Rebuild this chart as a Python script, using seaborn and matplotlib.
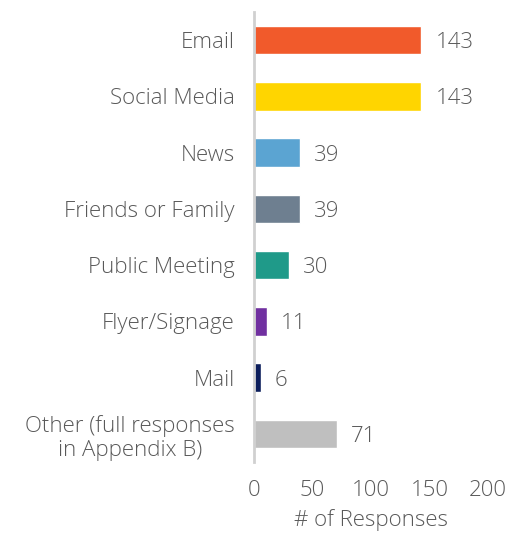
import matplotlib
matplotlib.use('Agg')
import matplotlib.pyplot as plt
import seaborn as sns
import pandas as pd

# chart data
categories = ['Email', 'Social Media', 'News', 'Friends or Family',
              'Public Meeting', 'Flyer/Signage', 'Mail',
              'Other (full responses\nin Appendix B)']
responses = [143, 143, 39, 39, 30, 11, 6, 71]
bar_colors = ['#F15A2B', '#FFD500', '#5BA4D2', '#6E7F90',
              '#1F9A89', '#7030A0', '#0C1E5C', '#BFBFBF']
x_ticks = [0, 50, 100, 150, 200]

df = pd.DataFrame({'category': categories, 'responses': responses})

sns.set_style('white')
plt.rcParams['font.family'] = ['Open Sans', 'DejaVu Sans']
plt.rcParams['font.weight'] = 'light'
text_color = '#595959'
fs = 16

fig = plt.figure(figsize=(5.16, 5.33), dpi=100)
ax = fig.add_axes([0.4922, 0.1332, 0.4535, 0.8443])

sns.barplot(data=df, x='responses', y='category', hue='category',
            palette=bar_colors, legend=False, width=0.51, ax=ax,
            saturation=1)

# value labels
for i, v in enumerate(responses):
    ax.text(v + 12, i, str(v), va='center_baseline', ha='left',
            fontsize=fs, color=text_color, fontweight='light')

ax.set_xlim(0, 200)
ax.set_ylim(len(categories) - 0.5, -0.5)
ax.set_xticks(x_ticks)
ax.set_xticklabels([str(t) for t in x_ticks])
ax.set_xlabel('# of Responses', fontsize=fs, color=text_color,
              labelpad=6, fontweight='light')
ax.set_ylabel('')
ax.tick_params(axis='both', length=0, labelsize=fs, colors=text_color)
ax.tick_params(axis='y', pad=14)
ax.tick_params(axis='x', pad=13)
for lbl in ax.get_yticklabels():
    lbl.set_horizontalalignment('right')
    lbl.set_multialignment('center')
    lbl.set_fontweight('light')
for lbl in ax.get_xticklabels():
    lbl.set_fontweight('light')

for side in ['top', 'right', 'bottom']:
    ax.spines[side].set_visible(False)
ax.spines['left'].set_color('#D0D0D0')
ax.spines['left'].set_linewidth(2)

plt.savefig('out.png', dpi=100)
